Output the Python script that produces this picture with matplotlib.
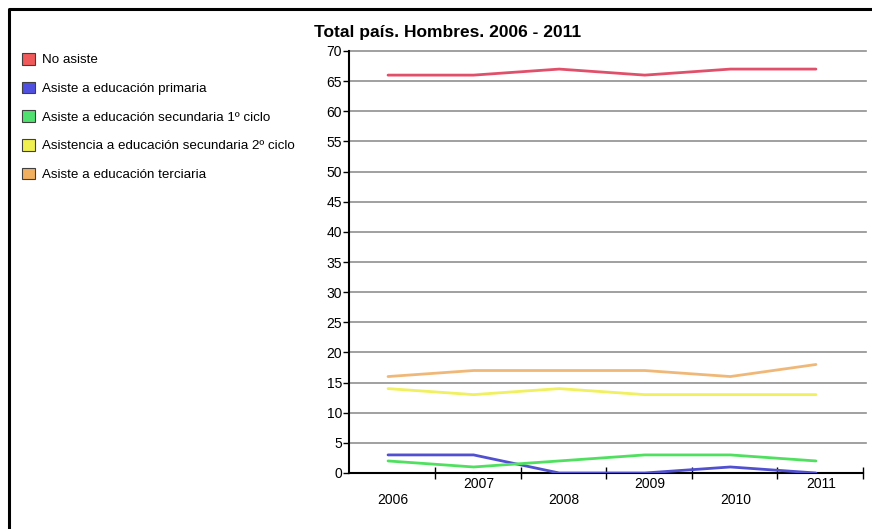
import numpy as np
import matplotlib
matplotlib.use("Agg")
import matplotlib.pyplot as plt
from matplotlib.patches import Patch
from matplotlib.lines import Line2D

plt.rcParams['font.family'] = ['Liberation Sans', 'DejaVu Sans']

years = ['2006', '2007', '2008', '2009', '2010', '2011']
series_names = ['No asiste',
                'Asiste a educación primaria',
                'Asiste a educación secundaria 1º ciclo',
                'Asistencia a educación secundaria 2º ciclo',
                'Asiste a educación terciaria']
no_asiste = [66, 66, 67, 66, 67, 67]
primaria = [3, 3, 0, 0, 1, 0]
secundaria1 = [2, 1, 2, 3, 3, 2]
secundaria2 = [14, 13, 14, 13, 13, 13]
terciaria = [16, 17, 17, 17, 16, 18]

line_colors = ['#e0506a', '#5050d0', '#50e060', '#f0f060', '#f0b878']
patch_colors = ['#f05a5a', '#5050e0', '#50e070', '#f0f050', '#f0b060']

W, H = 872, 529
fig = plt.figure(figsize=(W / 100, H / 100), dpi=100)
ax = fig.add_axes([349 / W, 1 - 473 / H, (863 - 349) / W, (473 - 51) / H])

x = np.arange(len(years))
all_series = [no_asiste, primaria, secundaria1, secundaria2, terciaria]
for vals, c in zip(all_series, line_colors):
    ax.plot(x, vals, color=c, lw=2, solid_capstyle='round', zorder=3)

ax.set_xlim(-0.456, 5.55)
ax.set_ylim(0, 70)

# horizontal grid, running a little past the axis end
for yv in np.arange(5, 71, 5):
    ax.plot([-0.456, 5.58], [yv, yv], color='#909090', lw=1.2,
            zorder=1, clip_on=False)
ax.set_yticks(np.arange(0, 71, 5))
ax.tick_params(axis='y', direction='out', length=4, width=1, labelsize=10, pad=1)

# x ticks at category borders, labels staggered
ax.set_xticks(np.arange(0.55, 5.6, 1))
ax.set_xticklabels([])
ax.tick_params(axis='x', direction='inout', length=8, width=1)
for i, yr in enumerate(years):
    off = -11 if i % 2 else -27
    ax.annotate(yr, (i, 0), xycoords=('data', 'axes fraction'),
                xytext=(5, off), textcoords='offset pixels',
                ha='center', va='center', fontsize=10)

for s in ['top', 'right']:
    ax.spines[s].set_visible(False)
ax.spines['left'].set_linewidth(1.5)
ax.spines['bottom'].set_linewidth(1.5)

fig.text(448 / W, 1 - 33 / H, 'Total país. Hombres. 2006 - 2011',
         ha='center', va='center', fontsize=12.5, fontweight='bold')

handles = [Patch(facecolor=c, edgecolor='#404040', lw=0.8) for c in patch_colors]
fig.legend(handles, series_names, loc='upper left',
           bbox_to_anchor=(22 / W, 1 - 53 / H), frameon=False,
           fontsize=9.6, labelspacing=1.15, handlelength=0.95, handleheight=0.95,
           handletextpad=0.55, borderpad=0, borderaxespad=0)

# outer frame (left and top)
fig.add_artist(Line2D([9 / W, 9 / W, 1.0], [0.0, 1 - 9 / H, 1 - 9 / H],
                      transform=fig.transFigure, color='black', lw=2.2))

fig.savefig('out.png', dpi=100)
